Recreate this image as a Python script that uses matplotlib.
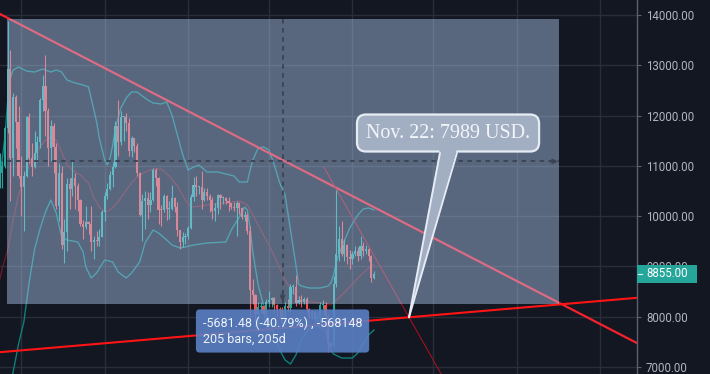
import matplotlib
matplotlib.use('Agg')
import matplotlib.pyplot as plt
import matplotlib.dates as mdates
from matplotlib.patches import Rectangle, Polygon
from matplotlib.transforms import blended_transform_factory
import numpy as np
import pandas as pd
from datetime import datetime, timedelta

plt.rcParams['font.family'] = ['Roboto', 'DejaVu Sans']

# ---------------- data ----------------
dates = pd.date_range('2019-06-23', '2019-11-09', freq='D')

opens = [10700, 10850, 11000, 11750, 12930, 11160, 12370, 11880,
         10800, 10580, 10800, 11980, 11150, 10970, 11250, 11480, 12300, 12580, 12100, 11350, 11800, 11370, 10200,
         10850, 9430, 9680, 10640, 10530, 10760, 10590, 10330, 9850, 9780, 9880, 9850, 9480, 9530, 9500, 9590,
         10080, 10400, 10530, 10820, 10970, 11790, 11470, 11980, 11980, 11850, 11290, 11550, 11390, 10850, 10030,
         10300, 10360, 10220, 10320, 10920, 10760, 10130, 10120, 10400, 10140, 10140, 10370, 10190, 9720, 9490, 9590,
         9600, 9760, 10380, 10620, 10570, 10580, 10320, 10490, 10400, 10320, 10100, 10160, 10420, 10360, 10360,
         10310, 10260, 10190, 10160, 10270, 10170, 9980, 10030, 9700, 8530, 8430, 8060, 8190, 8210, 8050,
         8300, 8340, 8380, 8230, 8150, 8140, 7870, 8210, 8180, 8590, 8590, 8270, 8330, 8290, 8360, 8160, 8000,
         8090, 7960, 7960, 8230, 8230, 8020, 7470, 7440, 8660, 9250, 9550, 9250, 9430, 9180,
         9150, 9250, 9310, 9200, 9410, 9310, 9350, 9200, 8770]
closes = [10850, 11000, 11750, 12930, 11160, 12370, 11880, 10800,
          10580, 10800, 11980, 11150, 10970, 11250, 11480, 12300, 12580, 12100, 11350, 11800, 11370, 10200, 10850,
          9430, 9680, 10640, 10530, 10760, 10590, 10330, 9850, 9780, 9880, 9850, 9480, 9530, 9500, 9590, 10080,
          10400, 10530, 10820, 10970, 11790, 11470, 11980, 11980, 11850, 11290, 11550, 11390, 10850, 10030, 10300,
          10360, 10220, 10320, 10920, 10760, 10130, 10120, 10400, 10140, 10140, 10370, 10190, 9720, 9490, 9590, 9600,
          9760, 10380, 10620, 10570, 10580, 10320, 10490, 10400, 10320, 10100, 10160, 10420, 10360, 10360, 10310,
          10260, 10190, 10160, 10270, 10170, 9980, 10030, 9700, 8530, 8430, 8060, 8190, 8210, 8050, 8300,
          8340, 8380, 8230, 8150, 8140, 7870, 8210, 8180, 8590, 8590, 8270, 8330, 8290, 8360, 8160, 8000, 8090,
          7960, 7960, 8230, 8230, 8020, 7470, 7440, 8660, 9250, 9550, 9250, 9430, 9180, 9150,
          9250, 9310, 9200, 9410, 9310, 9350, 9200, 8770, 8855]
highs = [11250, 11100, 11800, 13880, 13300, 12450, 12400, 12200,
         11200, 10900, 12000, 12050, 11450, 11700, 11600, 12350, 12800, 13200, 12150, 11920, 11850, 11450, 11050,
         11000, 9950, 10750, 10750, 11100, 10850, 10650, 10340, 9920, 10200, 9900, 10200, 9600, 9700, 9750, 10120,
         10480, 10650, 10900, 11080, 11900, 12300, 12100, 12000, 12050, 11950, 11600, 11560, 11450, 10880, 10450,
         10500, 10480, 10480, 10950, 10950, 10780, 10220, 10450, 10420, 10300, 10620, 10380, 10290, 9730, 9690, 9670,
         9800, 10450, 10780, 10800, 10600, 10900, 10550, 10560, 10450, 10380, 10270, 10450, 10450, 10400, 10380,
         10380, 10270, 10280, 10300, 10280, 10180, 10100, 10060, 9800, 8750, 8450, 8300, 8300, 8230, 8350,
         8520, 8400, 8400, 8250, 8200, 8200, 8300, 8350, 8660, 8650, 8820, 8420, 8440, 8400, 8400, 8170, 8130,
         8120, 8100, 8300, 8330, 8300, 8050, 7500, 8800, 10540, 9800, 9900, 9550, 9450, 9320,
         9300, 9400, 9380, 9600, 9480, 9420, 9380, 9220, 8900]
lows = [10550, 10550, 10950, 11650, 10300, 10800, 11350, 10750,
        10000, 9700, 10780, 11050, 10800, 10950, 11080, 11350, 12100, 11600, 11000, 11100, 10850, 10150, 9900,
        9350, 9070, 9300, 10150, 10400, 10150, 10100, 9800, 9550, 9750, 9650, 9300, 9150, 9400, 9400, 9580,
        9900, 10350, 10520, 10580, 10950, 11200, 11420, 11500, 11700, 11200, 11170, 11280, 10800, 10000, 9500,
        9750, 9950, 10080, 10300, 10600, 9850, 9800, 10080, 9920, 9950, 10130, 10080, 9600, 9350, 9380, 9450,
        9550, 9740, 10300, 10400, 10450, 10150, 10300, 10330, 10080, 9950, 9900, 10050, 10150, 10250, 10250,
        10100, 10150, 10100, 9600, 10050, 9950, 9900, 9650, 8000, 8250, 7800, 7850, 8100, 7900, 7750,
        8200, 8200, 8080, 8000, 8000, 7800, 7780, 8110, 8100, 8450, 8220, 8250, 8200, 8250, 8100, 7950, 7950,
        7850, 7900, 7880, 8150, 8000, 7300, 7400, 7400, 8600, 9100, 9200, 9100, 9050, 8950,
        9050, 9200, 9100, 9150, 9200, 9250, 9100, 8700, 8750]

bb_upper_dates = ['2019-06-23', '2019-06-24', '2019-06-25', '2019-06-26', '2019-06-27', '2019-06-28', '2019-06-30',
                  '2019-07-03', '2019-07-06', '2019-07-09', '2019-07-12', '2019-07-14', '2019-07-16', '2019-07-17',
                  '2019-07-18', '2019-07-21', '2019-07-24', '2019-07-26', '2019-07-28', '2019-07-29', '2019-07-30',
                  '2019-08-01', '2019-08-02', '2019-08-03', '2019-08-04', '2019-08-05', '2019-08-06', '2019-08-07',
                  '2019-08-09', '2019-08-11', '2019-08-13', '2019-08-15', '2019-08-17', '2019-08-19', '2019-08-22',
                  '2019-08-24', '2019-08-26', '2019-08-28', '2019-08-30', '2019-09-01', '2019-09-03', '2019-09-05',
                  '2019-09-08', '2019-09-12', '2019-09-15', '2019-09-18', '2019-09-20', '2019-09-23', '2019-09-24',
                  '2019-09-25', '2019-09-27', '2019-09-29', '2019-10-01', '2019-10-03', '2019-10-05', '2019-10-07',
                  '2019-10-09', '2019-10-11', '2019-10-12', '2019-10-13', '2019-10-16', '2019-10-20', '2019-10-23',
                  '2019-10-24', '2019-10-25', '2019-10-26', '2019-10-28', '2019-10-31', '2019-11-03', '2019-11-05',
                  '2019-11-07', '2019-11-09']
bb_upper = [10800, 11150, 11600, 12310, 12750, 12906, 12966,
            12886, 12866, 12926, 12866, 12906, 12866, 12787,
            12707, 12648, 12608, 12568, 12111, 11872, 11554,
            11116, 11017, 11156, 11415, 11753, 11952, 12151,
            12350, 12469, 12469, 12389, 12310, 12250, 12230,
            12270, 12011, 11614, 11216, 10917, 10977, 11017,
            10878, 10878, 10838, 10798, 10679, 10679, 10917,
            11116, 11355, 11375, 11315, 11017, 10659, 10420,
            9724, 9029, 8650, 8611, 8571, 8571, 8611,
            8671, 8830, 9088, 9386, 9764, 10023, 10142,
            10162, 10122]

bb_mid_dates = ['2019-06-23', '2019-06-24', '2019-06-26', '2019-06-28', '2019-06-30', '2019-07-02', '2019-07-04',
                '2019-07-06', '2019-07-08', '2019-07-10', '2019-07-12', '2019-07-14', '2019-07-16', '2019-07-18',
                '2019-07-20', '2019-07-23', '2019-07-26', '2019-07-28', '2019-07-30', '2019-08-01', '2019-08-03',
                '2019-08-05', '2019-08-07', '2019-08-09', '2019-08-11', '2019-08-13', '2019-08-16', '2019-08-19',
                '2019-08-22', '2019-08-25', '2019-08-28', '2019-08-31', '2019-09-02', '2019-09-06', '2019-09-10',
                '2019-09-15', '2019-09-20', '2019-09-23', '2019-09-25', '2019-09-28', '2019-10-01', '2019-10-04',
                '2019-10-07', '2019-10-10', '2019-10-13', '2019-10-17', '2019-10-21', '2019-10-24', '2019-10-26',
                '2019-10-29', '2019-11-01', '2019-11-04', '2019-11-07', '2019-11-09']
bb_mid = [8730, 8969, 9327, 9923, 10420, 10719, 11017,
          11216, 11375, 11514, 11574, 11514, 11276, 11017,
          10917, 10818, 10659, 10361, 10182, 10083, 10122,
          10222, 10361, 10520, 10659, 10778, 10878, 10938,
          10938, 10798, 10600, 10321, 10182, 10202, 10242,
          10261, 10301, 10222, 10023, 9724, 9426, 9088,
          8730, 8472, 8332, 8293, 8273, 8233, 8330,
          8480, 8650, 8820, 8970, 9030]

bb_lower_dates = ['2019-06-27', '2019-06-28', '2019-06-30', '2019-07-02', '2019-07-04', '2019-07-06', '2019-07-08',
                  '2019-07-10', '2019-07-12', '2019-07-14', '2019-07-16', '2019-07-18', '2019-07-22', '2019-07-24',
                  '2019-07-25', '2019-07-27', '2019-07-29', '2019-08-01', '2019-08-04', '2019-08-06', '2019-08-09',
                  '2019-08-11', '2019-08-14', '2019-08-16', '2019-08-19', '2019-08-21', '2019-08-24', '2019-08-26',
                  '2019-08-29', '2019-08-31', '2019-09-03', '2019-09-08', '2019-09-15', '2019-09-17', '2019-09-20',
                  '2019-09-22', '2019-09-23', '2019-09-24', '2019-09-25', '2019-09-27', '2019-09-29', '2019-10-01',
                  '2019-10-03', '2019-10-05', '2019-10-07', '2019-10-09', '2019-10-11', '2019-10-13', '2019-10-16',
                  '2019-10-19', '2019-10-22', '2019-10-23', '2019-10-24', '2019-10-25', '2019-10-28', '2019-11-01',
                  '2019-11-03', '2019-11-05', '2019-11-07', '2019-11-09']
bb_lower = [6650, 6900, 7450, 7900, 8700, 9350, 9750,
            10080, 10320, 10063, 9585, 9526, 9486, 9287,
            8989, 8770, 8870, 9128, 9088, 8889, 8770,
            8870, 9088, 9466, 9724, 9665, 9526, 9426,
            9367, 9387, 9426, 9466, 9486, 9724, 9983,
            10182, 10122, 9764, 9287, 8631, 8233, 7895,
            7637, 7338, 7139, 7060, 7239, 7537, 7776,
            7816, 7736, 7537, 7338, 7258, 7179, 7179,
            7278, 7477, 7637, 7736]

price_ticks = [7000, 8000, 9000, 10000, 11000, 12000, 13000, 14000]
last_price = 8855.00

# price-range measurement
range_start, range_end = datetime(2019, 6, 26), datetime(2020, 1, 17)
range_high, range_low = 13928.96, 8247.48
range_text = '-5681.48 (-40.79%) , -568148\n205 bars, 205d'

# trend lines (anchor points)
line1_pts = [(datetime(2019, 6, 26), 13940), (datetime(2020, 1, 17), 8269)]
line2_pts = [(datetime(2019, 11, 22), 7989), (datetime(2020, 1, 17), 8245)]
line3_pts = [(datetime(2019, 10, 26), 10540), (datetime(2019, 11, 22), 7989)]
line3_start = datetime(2019, 10, 21, 10)

callout_pt = (datetime(2019, 11, 22), 7989)
callout_text = 'Nov. 22: 7989 USD.'

# ---------------- styles ----------------
BG = '#131722'
GRID = '#2a2e39'
UP = '#26a69a'
DN = '#ef5350'
LBL = '#b2b5be'

W, H = 710, 374
fig = plt.figure(figsize=(W / 100, H / 100), dpi=100, facecolor=BG)
ax = fig.add_axes([0, 0, 637 / W, 1])
ax.set_facecolor(BG)

jul1 = mdates.date2num(datetime(2019, 7, 1))
ax.set_xlim(jul1 - 7.87, jul1 + 228.67)
ax.set_ylim(6861, 14298)

# grid
months = [datetime(2019, m, 1) for m in range(7, 13)] + [datetime(2020, 1, 1), datetime(2020, 2, 1)]
ax.set_xticks(mdates.date2num(months))
ax.set_yticks(price_ticks)
ax.set_yticklabels([f'{p:.2f}' for p in price_ticks])
ax.grid(True, color=GRID, lw=1.0)
ax.set_axisbelow(True)
ax.tick_params(axis='x', length=0, labelbottom=False)
ax.yaxis.tick_right()
ax.tick_params(axis='y', direction='out', length=2.9, width=0.8, color='#5d606b',
               pad=3.6, labelsize=8.3, labelcolor=LBL)
for s in ['top', 'left', 'bottom']:
    ax.spines[s].set_visible(False)
ax.spines['right'].set_color('#5d606b')
ax.spines['right'].set_linewidth(1.0)

# Bollinger bands
def dn(lst):
    return mdates.date2num(pd.to_datetime(lst).to_pydatetime())

ax.plot(dn(bb_upper_dates), bb_upper, color='#0f7f7a', lw=1.0, zorder=1)
ax.plot(dn(bb_lower_dates), bb_lower, color='#0f7f7a', lw=1.0, zorder=1)
ax.plot(dn(bb_mid_dates), bb_mid, color='#6e1a24', lw=0.9, zorder=1)

# candles
d = mdates.date2num(dates.to_pydatetime())
o = np.array(opens, float)
c = np.array(closes, float)
hi = np.array(highs, float)
lo = np.array(lows, float)
cols = np.where(c >= o, UP, DN)
ax.vlines(d, lo, hi, colors=cols, lw=0.8, zorder=2)
ax.bar(d, np.maximum(np.abs(c - o), 20), bottom=np.minimum(o, c), width=0.8,
       color=cols, linewidth=0, zorder=2.1)

# trend lines
def pt(p):
    return (mdates.date2num(p[0]), p[1])

ax.axline(pt(line1_pts[0]), pt(line1_pts[1]), color='#f5222d', lw=1.6, zorder=3)
ax.axline(pt(line2_pts[0]), pt(line2_pts[1]), color='#ff1414', lw=1.5, zorder=3)
(a_x, a_y), (b_x, b_y) = pt(line3_pts[0]), pt(line3_pts[1])
slope3 = (b_y - a_y) / (b_x - a_x)
s_x = mdates.date2num(line3_start)
e_x = b_x + 40
ax.plot([s_x, e_x], [a_y + slope3 * (s_x - a_x), a_y + slope3 * (e_x - a_x)],
        color='#a01020', lw=0.8, zorder=3)

# price range rectangle overlay
r0 = mdates.date2num(range_start) - 0.45
r1 = mdates.date2num(range_end) - 0.45
ax.add_patch(Rectangle((r0, range_low), r1 - r0, range_high - range_low,
                       fc='#b8d4ff', alpha=0.42, ec='none', zorder=4))
xm = (r0 + r1) / 2
ym = (range_low + range_high) / 2
DASH = '#3b4352'
ax.plot([xm, xm], [range_high, range_low], ls=(0, (2.5, 2.5)), color=DASH, lw=1.3, zorder=5)
ax.plot([r0, r1], [ym, ym], ls=(0, (2.5, 2.5)), color=DASH, lw=1.3, zorder=5)
ax.annotate('', xy=(xm, range_low + 60), xytext=(0, 6), textcoords='offset points',
            arrowprops=dict(arrowstyle='->', color=DASH, lw=1.2, shrinkA=0, shrinkB=0,
                            mutation_scale=7), zorder=5)
ax.annotate('', xy=(r1 - 0.3, ym), xytext=(-6, 0), textcoords='offset points',
            arrowprops=dict(arrowstyle='->', color=DASH, lw=1.2, shrinkA=0, shrinkB=0,
                            mutation_scale=7), zorder=5)

# measurement label
ax.text(xm, 7716, range_text, ha='center', va='center', multialignment='left',
        fontsize=9, color='#eef2fa', linespacing=1.3, zorder=7,
        bbox=dict(boxstyle='round,pad=0.55,rounding_size=0.3', fc='#5b80c4', ec='none', alpha=0.9))

# callout
tip = pt(callout_pt)
box_cx = jul1 + 158.5
box_cy = 11653
CFILL = '#a2afc2'
CEDGE = '#e6ecf5'
ax.text(box_cx, box_cy, callout_text, ha='center', va='center', fontsize=14.4,
        family=['Liberation Serif', 'DejaVu Serif'], color='#f2f5fa', zorder=9,
        bbox=dict(boxstyle='round,pad=0.45,rounding_size=0.45', fc=CFILL, ec=CEDGE, lw=1.6))
wa = (jul1 + 155.5, 11256)
wb = (jul1 + 161.8, 11256)
wa_in = (jul1 + 155.5, 11335)
wb_in = (jul1 + 161.8, 11335)
ax.add_patch(Polygon([wa_in, wb_in, tip], closed=True, fc=CFILL, ec='none', zorder=9.5))
ax.plot([wa[0], tip[0]], [wa[1], tip[1]], color=CEDGE, lw=1.4, zorder=9.6, solid_capstyle='round')
ax.plot([wb[0], tip[0]], [wb[1], tip[1]], color=CEDGE, lw=1.4, zorder=9.6, solid_capstyle='round')

# last price tag
tr = blended_transform_factory(fig.transFigure, ax.transData)
hpx = 19.886
fig_tag = Rectangle((637 / W, last_price - 9 * hpx), 60 / W, 18 * hpx, transform=tr,
                    fc=UP, ec='none', clip_on=False, zorder=20)
ax.add_patch(fig_tag)
ax.plot([638 / W, 642 / W], [last_price, last_price], transform=tr, color='#e0f2f1',
        lw=0.8, clip_on=False, zorder=21)
ax.text(667 / W, last_price, f'{last_price:.2f}', transform=tr, ha='center', va='center',
        fontsize=8.3, color='white', clip_on=False, zorder=21)

fig.savefig('out.png', dpi=100, facecolor=BG)
